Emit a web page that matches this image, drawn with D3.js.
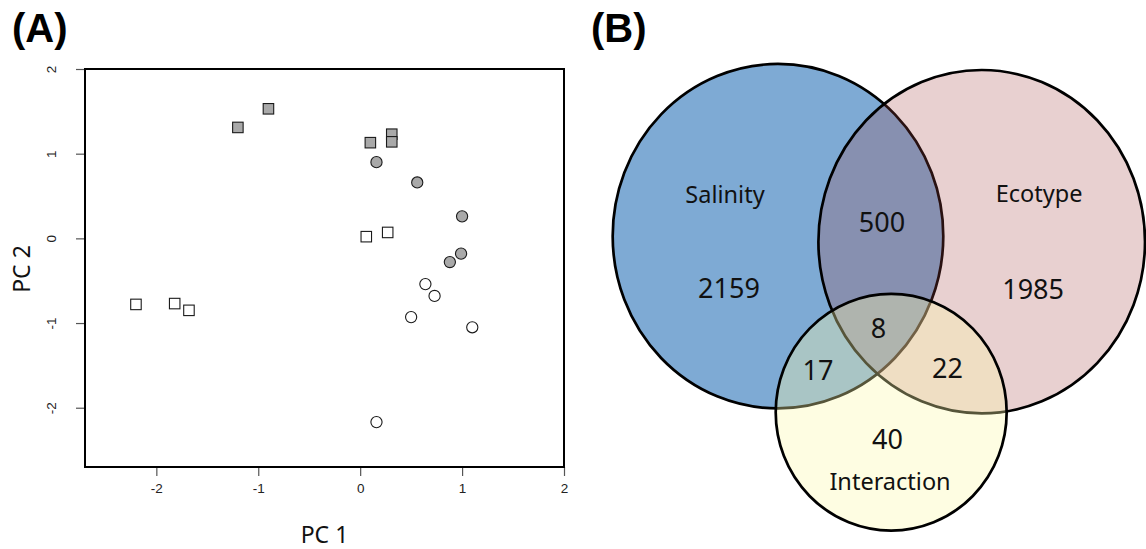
<!DOCTYPE html>
<html>
<head>
<meta charset="utf-8">
<script src="https://cdn.jsdelivr.net/npm/d3@7"></script>
<style>
  body { margin: 0; background: #fff; }
  svg { display: block; }
</style>
</head>
<body>
<svg id="fig" width="1146" height="549"></svg>
<script>
// ---- Panel A: PCA sample scores ----
const pc1 = [-0.90, -1.20, 0.10, 0.31, 0.31,
             0.16, 0.56, 1.00, 0.99, 0.88,
             0.64, 0.73, 0.50, 1.10, 0.16,
             0.06, 0.27, -2.20, -1.82, -1.68];
const pc2 = [1.53, 1.31, 1.13, 1.23, 1.14,
             0.90, 0.66, 0.26, -0.18, -0.28,
             -0.54, -0.68, -0.93, -1.05, -2.17,
             0.02, 0.07, -0.78, -0.77, -0.85];
const sampleShape = ["square", "square", "square", "square", "square",
                     "circle", "circle", "circle", "circle", "circle",
                     "circle", "circle", "circle", "circle", "circle",
                     "square", "square", "square", "square", "square"];
const sampleFill = ["filled", "filled", "filled", "filled", "filled",
                    "filled", "filled", "filled", "filled", "filled",
                    "open", "open", "open", "open", "open",
                    "open", "open", "open", "open", "open"];
const xTicks = [-2, -1, 0, 1, 2];
const yTicks = [-2, -1, 0, 1, 2];

// ---- Panel B: Venn diagram of gene counts ----
const setNames = ["Salinity", "Ecotype", "Interaction"];
const regionNames = ["Salinity only", "Ecotype only", "Interaction only",
                     "Salinity & Ecotype", "Salinity & Interaction",
                     "Ecotype & Interaction", "All three"];
const regionCounts = [2159, 1985, 40, 500, 17, 22, 8];

const svg = d3.select("#fig");

// ===== Panel A =====
const x = d3.scaleLinear().domain([-2.7, 2]).range([85, 564]);
const y = d3.scaleLinear().domain([-2.7, 2]).range([467, 69]);

const axisFont = "'Liberation Sans', Arial, sans-serif";
const labelFont = "'Noto Sans', 'Open Sans', sans-serif";
const minusFmt = d => d < 0 ? "-" + Math.abs(d) : String(d);

// x axis (labels below, ticks pointing outward)
const gx = svg.append("g").attr("transform", `translate(0,${y.range()[0]})`)
  .call(d3.axisBottom(x).tickValues(xTicks).tickSize(9).tickPadding(7)
        .tickFormat(minusFmt));
gx.select(".domain").attr("stroke", "#555").attr("stroke-width", 1.2)
  .attr("d", `M${x(-2)},0H${x(2)}`);
gx.selectAll(".tick line").attr("stroke", "#555").attr("stroke-width", 1.2);
gx.selectAll(".tick text").attr("font-family", axisFont).attr("font-size", 13.5)
  .attr("fill", "#222");

// y axis with labels rotated parallel to the axis
const gy = svg.append("g").attr("transform", `translate(${x.range()[0]},0)`)
  .call(d3.axisLeft(y).tickValues(yTicks).tickSize(9).tickPadding(0)
        .tickFormat(minusFmt));
gy.select(".domain").attr("stroke", "#555").attr("stroke-width", 1.2)
  .attr("d", `M0,${y(-2)}V${y(2)}`);
gy.selectAll(".tick line").attr("stroke", "#555").attr("stroke-width", 1.2);
gy.selectAll(".tick text")
  .attr("font-family", axisFont).attr("font-size", 13.5).attr("fill", "#222")
  .attr("x", null).attr("dy", "0")
  .attr("text-anchor", "middle")
  .attr("transform", "translate(-29,0) rotate(-90)");

// plot frame
svg.append("rect")
  .attr("x", x.range()[0]).attr("y", y.range()[1])
  .attr("width", x.range()[1] - x.range()[0])
  .attr("height", y.range()[0] - y.range()[1])
  .attr("fill", "none").attr("stroke", "#000").attr("stroke-width", 2);

// axis titles
svg.append("text").attr("x", (x.range()[0] + x.range()[1]) / 2).attr("y", 543)
  .attr("text-anchor", "middle").attr("font-family", labelFont)
  .attr("font-size", 23).attr("fill", "#111").text("PC 1");
svg.append("text")
  .attr("transform", `translate(30,${(y.range()[0] + y.range()[1]) / 2 + 1}) rotate(-90)`)
  .attr("text-anchor", "middle").attr("font-family", labelFont)
  .attr("font-size", 23).attr("fill", "#111").text("PC 2");

// sample markers
const samples = pc1.map((v, i) => ({ pc1: v, pc2: pc2[i], shape: sampleShape[i], fill: sampleFill[i] }));
const fillColor = f => f === "filled" ? "#a9a9a9" : "#ffffff";
const side = 10.5;
const pts = svg.append("g");
pts.selectAll("rect.sq").data(samples.filter(d => d.shape === "square")).join("rect")
  .attr("class", "sq")
  .attr("x", d => x(d.pc1) - side / 2).attr("y", d => y(d.pc2) - side / 2)
  .attr("width", side).attr("height", side)
  .attr("fill", d => fillColor(d.fill)).attr("stroke", "#1a1a1a").attr("stroke-width", 1.1);
pts.selectAll("circle.ci").data(samples.filter(d => d.shape === "circle")).join("circle")
  .attr("class", "ci")
  .attr("cx", d => x(d.pc1)).attr("cy", d => y(d.pc2)).attr("r", 5.6)
  .attr("fill", d => fillColor(d.fill)).attr("stroke", "#1a1a1a").attr("stroke-width", 1.1);

// ===== Panel B =====
// Venn layout in panel units, mapped to the page with linear scales
const vx = d3.scaleLinear().domain([0, 100]).range([590, 1146]);
const vy = d3.scaleLinear().domain([0, 100]).range([50, 549]);
const vk = (vx(100) - vx(0)) / 100;   // px per unit horizontally
const vkY = (vy(100) - vy(0)) / 100;  // px per unit vertically

const setShapes = [
  { cx: 33.81, cy: 37.31, rx: 29.73, ry: 34.51, fill: "#7eaad4", op: 1 },
  { cx: 70.45, cy: 38.42, rx: 29.37, ry: 34.41, fill: "rgb(163,67,67)", op: 0.25 },
  { cx: 54.17, cy: 72.6, rx: 20.77, ry: 23.71, fill: "rgb(252,249,170)", op: 0.34 }
];

const venn = svg.append("g");
venn.selectAll("ellipse").data(setShapes).join("ellipse")
  .attr("cx", d => vx(d.cx)).attr("cy", d => vy(d.cy))
  .attr("rx", d => d.rx * vk).attr("ry", d => d.ry * vkY)
  .attr("fill", d => d.fill).attr("fill-opacity", d => d.op)
  .attr("stroke", "#000").attr("stroke-width", 2.7);

// set names
const setLabelPos = [[24.28, 30.66], [80.76, 30.46], [53.96, 88.18]];
venn.selectAll("text.set").data(setNames).join("text")
  .attr("class", "set")
  .attr("x", (d, i) => vx(setLabelPos[i][0])).attr("y", (d, i) => vy(setLabelPos[i][1]))
  .attr("text-anchor", "middle").attr("font-family", labelFont)
  .attr("font-size", 23.5).attr("fill", "#111").text(d => d);

// region counts
const regionLabelPos = [[25.0, 49.7], [79.7, 49.9], [53.51, 79.9],
                        [52.52, 36.4], [41.0, 66.2], [64.3, 65.8], [51.9, 57.7]];
venn.selectAll("text.count").data(regionCounts).join("text")
  .attr("class", "count")
  .attr("x", (d, i) => vx(regionLabelPos[i][0])).attr("y", (d, i) => vy(regionLabelPos[i][1]))
  .attr("text-anchor", "middle").attr("font-family", labelFont)
  .attr("font-size", 27).attr("fill", "#111").text(d => d);

// panel tags
svg.append("text").attr("x", 12).attr("y", 42)
  .attr("font-family", "'Liberation Sans', Arial, sans-serif").attr("font-weight", "bold")
  .attr("font-size", 40).attr("fill", "#000").text("(A)");
svg.append("text").attr("x", 591).attr("y", 42)
  .attr("font-family", "'Liberation Sans', Arial, sans-serif").attr("font-weight", "bold")
  .attr("font-size", 40).attr("fill", "#000").text("(B)");
</script>
</body>
</html>
